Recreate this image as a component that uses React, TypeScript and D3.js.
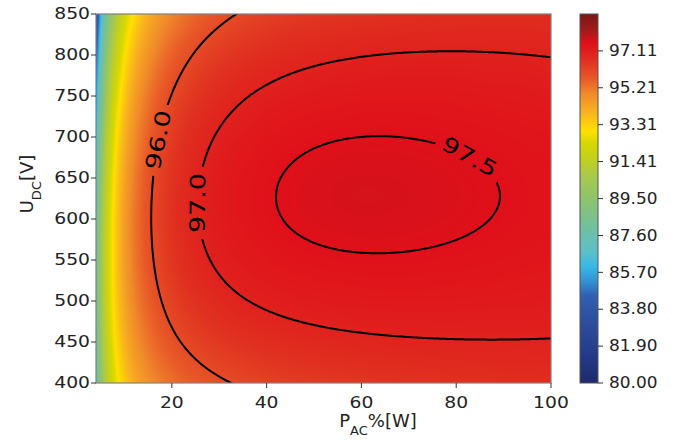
import React, { useMemo } from "react";
import * as d3 from "d3";

const WIDTH = 678;
const HEIGHT = 446;

const pDomain: [number, number] = [4, 100];
const uDomain: [number, number] = [400, 850];
const xTickValues = [20, 40, 60, 80, 100];
const yTickValues = [400, 450, 500, 550, 600, 650, 700, 750, 800, 850];
const colorbarTicks = [80.0, 81.9, 83.8, 85.7, 87.6, 89.5, 91.41, 93.31, 95.21, 97.11];
const colorbarDomain: [number, number] = [80, 99.01];
const contourLevels = [96.0, 97.0, 97.5];

// Loss model per DC-voltage node: loss% = A/p + E/p^2 + B + C*p
const voltageNodes = [400, 625, 850];
const lossA = [34.0, 45.0, 53.2];
const lossE = [20, 9, 32];
const lossB = [2.92, 0.915, 2.2];
const lossC = [0.0005, 0.0121, 0.00567];

const cmapStops = [80, 81.4, 82.8, 84.5, 85.2, 86.0, 86.75, 88.0, 89.6, 90.6, 91.5, 92.4, 93.0, 94.0, 94.9, 95.7, 96.6, 97.5, 98.2, 99.01];
const cmapColors = ["#1e2a6a", "#243a88", "#2c4a98", "#3060b0", "#3390d0", "#38b8e8", "#5cc0c8", "#70c0a0", "#90c468", "#a8c850", "#c0d020", "#d8d800", "#ffe000", "#f8b020", "#f08a2a", "#e85828", "#e03020", "#e0101a", "#a01a1a", "#7a1818"];

const labelAnchors = [
  { level: 96.0, text: "96.0", p: 16.7, u: 696 },
  { level: 97.0, text: "97.0", p: 25, u: 620 },
  { level: 97.5, text: "97.5", p: 83, u: 676 },
];

const plot = { x0: 96, x1: 551, y0: 14, y1: 383 };
const cbBox = { x0: 580, x1: 598 };
const FONT = "DejaVu Sans, sans-serif";
const TICK_STRETCH = 1.25;
const CB_STRETCH = 1.13;
const LABEL_STRETCH = 1.28;

function lagrange(vals: number[], u: number) {
  const [u0, u1, u2] = voltageNodes;
  const l0 = ((u - u1) * (u - u2)) / ((u0 - u1) * (u0 - u2));
  const l1 = ((u - u0) * (u - u2)) / ((u1 - u0) * (u1 - u2));
  const l2 = ((u - u0) * (u - u1)) / ((u2 - u0) * (u2 - u1));
  return vals[0] * l0 + vals[1] * l1 + vals[2] * l2;
}

function efficiency(p: number, u: number) {
  const a = lagrange(lossA, u);
  const e = lagrange(lossE, u);
  const b = lagrange(lossB, u);
  const c = lagrange(lossC, u);
  return 100 - (a / p + e / (p * p) + b + c * p);
}

export default function App() {
  const x = d3.scaleLinear().domain(pDomain).range([plot.x0, plot.x1]);
  const y = d3.scaleLinear().domain(uDomain).range([plot.y1, plot.y0]);
  const cbScale = d3.scaleLinear().domain(colorbarDomain).range([plot.y1, plot.y0]);
  const color = d3
    .scaleLinear<string>()
    .domain(cmapStops)
    .range(cmapColors)
    .interpolate(d3.interpolateRgb)
    .clamp(true);

  const heatmap = useMemo(() => {
    const w = plot.x1 - plot.x0;
    const h = plot.y1 - plot.y0;
    const canvas = document.createElement("canvas");
    canvas.width = w;
    canvas.height = h;
    const ctx = canvas.getContext("2d")!;
    const img = ctx.createImageData(w, h);
    for (let j = 0; j < h; j++) {
      const u = y.invert(plot.y0 + j + 0.5);
      for (let i = 0; i < w; i++) {
        const p = x.invert(plot.x0 + i + 0.5);
        const c = d3.rgb(color(efficiency(p, u)));
        const k = (j * w + i) * 4;
        img.data[k] = c.r;
        img.data[k + 1] = c.g;
        img.data[k + 2] = c.b;
        img.data[k + 3] = 255;
      }
    }
    ctx.putImageData(img, 0, 0);
    return canvas.toDataURL();
  }, []);

  const colorbarImg = useMemo(() => {
    const h = plot.y1 - plot.y0;
    const canvas = document.createElement("canvas");
    canvas.width = 1;
    canvas.height = h;
    const ctx = canvas.getContext("2d")!;
    for (let j = 0; j < h; j++) {
      ctx.fillStyle = color(cbScale.invert(plot.y0 + j + 0.5));
      ctx.fillRect(0, j, 1, 1);
    }
    return canvas.toDataURL();
  }, []);

  // contour grid in pixel space, extended beyond the plot so boundaries are clipped off
  const step = 1.5;
  const pad = 6;
  const gx0 = plot.x0 - pad;
  const gy0 = plot.y0 - pad;
  const nx = Math.ceil((plot.x1 - plot.x0 + 2 * pad) / step) + 1;
  const ny = Math.ceil((plot.y1 - plot.y0 + 2 * pad) / step) + 1;
  const toPx = (c: number) => gx0 + (c - 0.5) * step;
  const toPy = (c: number) => gy0 + (c - 0.5) * step;

  const contours = useMemo(() => {
    const values = new Array(nx * ny);
    for (let j = 0; j < ny; j++) {
      const u = y.invert(gy0 + j * step);
      for (let i = 0; i < nx; i++) {
        const p = x.invert(gx0 + i * step);
        values[j * nx + i] = efficiency(p, u);
      }
    }
    return d3.contours().size([nx, ny]).thresholds(contourLevels)(values);
  }, []);

  const path = d3.geoPath(
    d3.geoTransform({
      point(px: number, py: number) {
        (this as any).stream.point(toPx(px), toPy(py));
      },
    })
  );

  const fontLabel = 21;
  const labels = labelAnchors.map((a) => {
    const cont = contours.find((c) => c.value === a.level)!;
    const ax = x(a.p);
    const ay = y(a.u);
    let best = { d: Infinity, ring: [] as number[][], idx: 0 };
    for (const poly of cont.coordinates) {
      for (const ring of poly) {
        const pts = ring.map((pt) => [toPx(pt[0]), toPy(pt[1])]);
        pts.forEach((pt, idx) => {
          const dd = (pt[0] - ax) ** 2 + (pt[1] - ay) ** 2;
          if (dd < best.d) best = { d: dd, ring: pts, idx };
        });
      }
    }
    const n = best.ring.length;
    const pa = best.ring[(best.idx - 5 + n) % n];
    const pb = best.ring[(best.idx + 5) % n];
    let ang = (Math.atan2(pb[1] - pa[1], pb[0] - pa[0]) * 180) / Math.PI;
    if (ang >= 90) ang -= 180;
    if (ang < -90) ang += 180;
    const pt = best.ring[best.idx];
    return {
      x: pt[0],
      y: pt[1],
      angle: ang,
      text: a.text,
      w: a.text.length * 0.6 * fontLabel * LABEL_STRETCH + 8,
      h: fontLabel,
    };
  });

  return (
    <svg
      width={WIDTH}
      height={HEIGHT}
      style={{ position: "absolute", left: 0, top: 0, background: "white" }}
      fontFamily={FONT}
    >
      <defs>
        <clipPath id="plotClip">
          <rect x={plot.x0} y={plot.y0} width={plot.x1 - plot.x0} height={plot.y1 - plot.y0} />
        </clipPath>
        <mask id="labelMask" maskUnits="userSpaceOnUse" x={0} y={0} width={WIDTH} height={HEIGHT}>
          <rect x={0} y={0} width={WIDTH} height={HEIGHT} fill="white" />
          {labels.map((l, i) => (
            <rect
              key={i}
              transform={`translate(${l.x},${l.y}) rotate(${l.angle})`}
              x={-l.w / 2}
              y={-l.h / 2}
              width={l.w}
              height={l.h}
              fill="black"
            />
          ))}
        </mask>
      </defs>

      <image
        href={heatmap}
        x={plot.x0}
        y={plot.y0}
        width={plot.x1 - plot.x0}
        height={plot.y1 - plot.y0}
        preserveAspectRatio="none"
      />

      <g clipPath="url(#plotClip)">
        <g mask="url(#labelMask)">
          {contours.map((c, i) => (
            <path key={i} d={path(c as any) || ""} fill="none" stroke="#000" strokeWidth={2} />
          ))}
        </g>
      </g>

      {labels.map((l, i) => (
        <text
          key={i}
          transform={`translate(${l.x},${l.y}) rotate(${l.angle}) scale(${LABEL_STRETCH},1)`}
          textAnchor="middle"
          dominantBaseline="central"
          fontSize={fontLabel}
          fill="#000"
        >
          {l.text}
        </text>
      ))}

      <rect
        x={plot.x0}
        y={plot.y0}
        width={plot.x1 - plot.x0}
        height={plot.y1 - plot.y0}
        fill="none"
        stroke="#808080"
        strokeWidth={1.2}
      />

      {xTickValues.map((t) => (
        <g key={t}>
          <line x1={x(t)} x2={x(t)} y1={plot.y1} y2={plot.y1 + 5} stroke="#333" strokeWidth={1} />
          <text
            transform={`translate(${x(t)},${plot.y1 + 25}) scale(${TICK_STRETCH},1)`}
            textAnchor="middle"
            fontSize={15}
            fill="#222"
          >
            {t}
          </text>
        </g>
      ))}
      {yTickValues.map((t) => (
        <g key={t}>
          <line x1={plot.x0 - 5} x2={plot.x0} y1={y(t)} y2={y(t)} stroke="#333" strokeWidth={1} />
          <text
            transform={`translate(${plot.x0 - 6},${y(t)}) scale(${TICK_STRETCH},1)`}
            textAnchor="end"
            dominantBaseline="central"
            fontSize={15}
            fill="#222"
          >
            {t}
          </text>
        </g>
      ))}

      <text x={378} y={427} textAnchor="middle" fontSize={18} fill="#222">
        P<tspan baselineShift="sub" fontSize={13}>AC</tspan>%[W]
      </text>
      <text transform={`translate(33,184) rotate(-90)`} textAnchor="middle" fontSize={18} fill="#222">
        U<tspan baselineShift="sub" fontSize={13}>DC</tspan>[V]
      </text>

      <image
        href={colorbarImg}
        x={cbBox.x0}
        y={plot.y0}
        width={cbBox.x1 - cbBox.x0}
        height={plot.y1 - plot.y0}
        preserveAspectRatio="none"
      />
      <rect
        x={cbBox.x0}
        y={plot.y0}
        width={cbBox.x1 - cbBox.x0}
        height={plot.y1 - plot.y0}
        fill="none"
        stroke="#555"
        strokeWidth={1}
      />
      {colorbarTicks.map((t) => (
        <g key={t}>
          <line x1={cbBox.x1} x2={cbBox.x1 + 5} y1={cbScale(t)} y2={cbScale(t)} stroke="#333" strokeWidth={1} />
          <text
            transform={`translate(${cbBox.x1 + 11},${cbScale(t)}) scale(${CB_STRETCH},1)`}
            dominantBaseline="central"
            fontSize={15}
            fill="#222"
          >
            {t.toFixed(2)}
          </text>
        </g>
      ))}
    </svg>
  );
}
